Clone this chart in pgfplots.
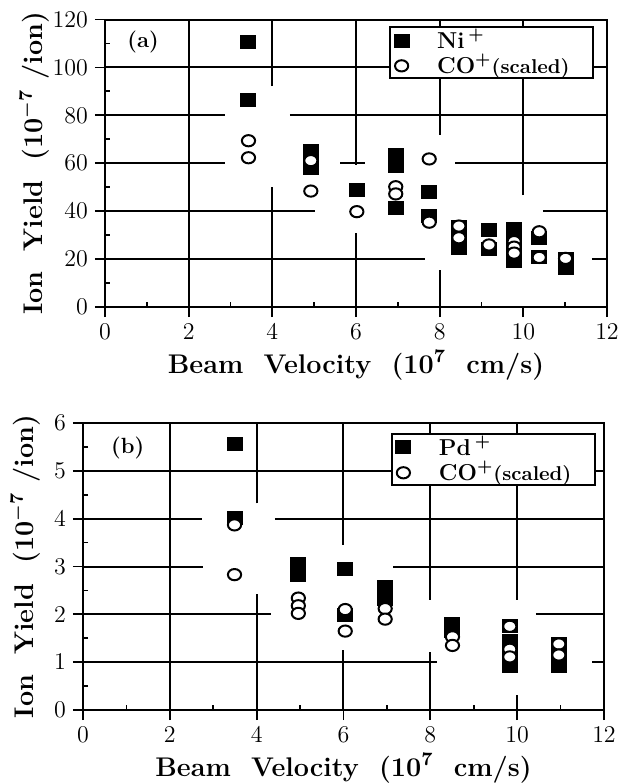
\documentclass[border=0pt]{standalone}
\usepackage{pgfplots}
\pgfplotsset{compat=1.18}
\pgfplotstableread{
x y
3.43 110.7
3.43 86.4
4.92 65.2
4.92 61.7
4.92 58.2
6.02 48.8
6.95 63.6
6.95 61.2
6.95 58.9
6.95 41.2
7.75 48.1
7.75 37.8
8.46 33.2
8.46 29.0
8.46 24.8
9.18 32.2
9.18 24.1
9.78 32.5
9.78 28.0
9.78 23.6
9.78 19.3
10.38 28.6
10.38 20.7
11.01 20.1
11.01 16.1
}\niData
\pgfplotstableread{
x y
3.43 69.4
3.43 62.3
4.92 61.1
4.92 48.4
6.02 39.8
6.95 50.2
6.95 47.2
7.75 61.8
7.75 35.4
8.46 33.8
8.46 28.9
9.18 25.9
9.78 27.3
9.78 25.0
9.78 22.5
10.38 31.4
10.38 20.7
11.01 20.3
}\coaData
\pgfplotstableread{
x y
3.49 5.57
3.49 4.02
4.96 3.06
4.96 2.83
6.04 2.95
6.04 1.99
6.96 2.58
6.96 2.33
8.51 1.80
8.51 1.66
9.83 1.76
9.83 1.45
9.83 1.20
9.83 0.92
10.96 1.39
10.96 1.15
10.96 0.92
}\pdData
\pgfplotstableread{
x y
3.49 3.87
3.49 2.83
4.96 2.34
4.96 2.18
4.96 2.02
6.04 2.10
6.04 1.65
6.96 2.12
6.96 1.90
8.51 1.53
8.51 1.35
9.83 1.75
9.83 1.27
9.83 1.11
10.96 1.38
10.96 1.15
}\cobData
\tikzset{gl/.style={line width=1pt}}
\newcommand{\legtxt}[1]{\makebox[90pt][l]{\hspace*{14pt}#1}}
\pgfplotsset{
  myax/.style={
    scale only axis,
    xmin=0, xmax=12,
    xtick={0,2,...,12},
    minor xtick={1,3,...,11},
    tick pos=left,
    tick align=outside,
    major tick length=5pt,
    minor tick length=-2.5pt,
    every tick/.style={black, line width=0.9pt},
    axis line style={line width=1pt},
    tick label style={font=\fontsize{11.5}{13}\selectfont},
    every axis x label/.style={at={(axis description cs:0.5,0)}, anchor=base, yshift=-33pt, font=\fontsize{13.5}{16}\selectfont\bfseries},
    legend style={draw=black, line width=1pt, fill=white, inner xsep=2pt, inner ysep=1pt,
      font=\fontsize{11.5}{13}\selectfont\bfseries, anchor=north west,
      nodes={inner sep=0pt, anchor=base west}, row sep=1.5pt},
    legend image code/.code={\draw[##1] plot coordinates {(0pt,3.8pt)};},
    xlabel={Beam\ \ Velocity\ \ (10\textsuperscript{7}\ \ cm/s)},
  },
  sq/.style={only marks, mark=square*, mark size=3.5pt, mark options={fill=black, draw=black, line width=0pt, xscale=1.07, yscale=0.93}},
  ci/.style={only marks, mark=*, mark size=3.3pt, mark options={fill=white, draw=black, line width=1pt, yscale=0.85}},
}
\begin{document}
\begin{tikzpicture}
\useasboundingbox (0pt,0pt) rectangle (308.5pt,-391.5pt);
% ---------- (a) ----------
\begin{axis}[myax,
  at={(52.5pt,-153.5pt)}, anchor=south west,
  width=251pt, height=143.75pt,
  ymin=0, ymax=120,
  ytick={0,20,...,120},
  minor ytick={10,30,...,110},
  every axis y label/.style={at={(axis description cs:-0.1414,0.5)}, rotate=90, anchor=center, font=\fontsize{13.5}{16}\selectfont\bfseries},
  ylabel={Ion\ \ Yield\ \ (10\textsuperscript{\boldmath$-$7}\ /ion)},
  legend style={at={(0.566,0.978)}},
]
\draw[gl] (axis cs:2,0) -- (axis cs:2,120);
\draw[gl] (axis cs:4,0) -- (axis cs:4,50.2);
\draw[gl] (axis cs:4,92.2) -- (axis cs:4,120);
\draw[gl] (axis cs:6,0) -- (axis cs:6,30.9);
\draw[gl] (axis cs:6,59.3) -- (axis cs:6,120);
\draw[gl] (axis cs:8,0) -- (axis cs:8,15.4);
\draw[gl] (axis cs:8,71.8) -- (axis cs:8,120);
\draw[gl] (axis cs:10,46.7) -- (axis cs:10,120);
\draw[gl] (axis cs:0,100) -- (axis cs:12,100);
\draw[gl] (axis cs:0,80) -- (axis cs:2.87,80);
\draw[gl] (axis cs:4.42,80) -- (axis cs:12,80);
\draw[gl] (axis cs:0,60) -- (axis cs:2.87,60);
\draw[gl] (axis cs:5.62,60) -- (axis cs:6.22,60);
\draw[gl] (axis cs:8.37,60) -- (axis cs:12,60);
\draw[gl] (axis cs:0,40) -- (axis cs:5.02,40);
\draw[gl] (axis cs:10.47,40) -- (axis cs:12,40);
\draw[gl] (axis cs:0,20) -- (axis cs:7.65,20);
\draw[gl] (axis cs:11.64,20) -- (axis cs:12,20);
\addplot[sq] table[x=x,y=y] {\niData};
\addlegendentry{\legtxt{Ni\,\textsuperscript{+}}}
\addplot[ci] table[x=x,y=y] {\coaData};
\addlegendentry{\legtxt{CO\textsuperscript{+}{\fontsize{10}{12}\selectfont(scaled)}}}
\node[font=\fontsize{11}{12}\selectfont\bfseries] at (axis cs:0.91,110.6) {(a)};
\end{axis}
% ---------- (b) ----------
\begin{axis}[myax,
  at={(41.5pt,-355pt)}, anchor=south west,
  width=260.5pt, height=143.5pt,
  ymin=0, ymax=6,
  ytick={0,1,...,6},
  minor ytick={0.5,1.5,...,5.5},
  every axis y label/.style={at={(axis description cs:-0.111,0.5)}, rotate=90, anchor=center, font=\fontsize{13.5}{16}\selectfont\bfseries},
  ylabel={Ion\ \ Yield\ \ (10\textsuperscript{\boldmath$-$7}\ /ion)},
  legend style={at={(0.591,0.966)}},
]
\draw[gl] (axis cs:2,0) -- (axis cs:2,6);
\draw[gl] (axis cs:4,0) -- (axis cs:4,2.43);
\draw[gl] (axis cs:4,4.32) -- (axis cs:4,6);
\draw[gl] (axis cs:6,0) -- (axis cs:6,1.25);
\draw[gl] (axis cs:6,3.45) -- (axis cs:6,6);
\draw[gl] (axis cs:8,0) -- (axis cs:8,1.22);
\draw[gl] (axis cs:8,2.30) -- (axis cs:8,6);
\draw[gl] (axis cs:10,0) -- (axis cs:10,0.31);
\draw[gl] (axis cs:10,2.31) -- (axis cs:10,6);
\draw[gl] (axis cs:0,5) -- (axis cs:12,5);
\draw[gl] (axis cs:0,4) -- (axis cs:2.73,4);
\draw[gl] (axis cs:4.42,4) -- (axis cs:12,4);
\draw[gl] (axis cs:0,3) -- (axis cs:2.77,3);
\draw[gl] (axis cs:7.15,3) -- (axis cs:12,3);
\draw[gl] (axis cs:0,2) -- (axis cs:4.33,2);
\draw[gl] (axis cs:10.43,2) -- (axis cs:12,2);
\draw[gl] (axis cs:0,1) -- (axis cs:8.15,1);
\draw[gl] (axis cs:11.73,1) -- (axis cs:12,1);
\addplot[sq] table[x=x,y=y] {\pdData};
\addlegendentry{\legtxt{Pd\,\textsuperscript{+}}}
\addplot[ci] table[x=x,y=y] {\cobData};
\addlegendentry{\legtxt{CO\textsuperscript{+}{\fontsize{10}{12}\selectfont(scaled)}}}
\node[font=\fontsize{11}{12}\selectfont\bfseries] at (axis cs:1.03,5.47) {(b)};
\end{axis}
\end{tikzpicture}
\end{document}
